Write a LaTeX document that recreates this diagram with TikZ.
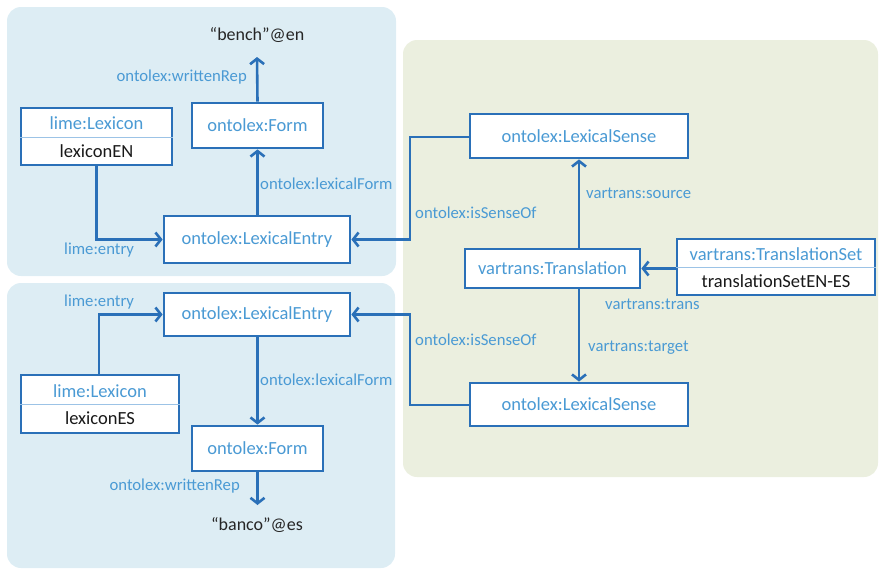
\documentclass[tikz,border=0pt]{standalone}
\usepackage{fontspec}
\setmainfont{Carlito}
\usetikzlibrary{arrows.meta}
\definecolor{edgeblue}{HTML}{2A70B8}
\definecolor{labelblue}{HTML}{4A9AD4}
\definecolor{panelblue}{HTML}{DDEDF4}
\definecolor{panelgreen}{HTML}{EBEFDF}
\definecolor{splitblue}{HTML}{9CC3E6}
\tikzset{
  panel/.style={rounded corners=14pt, draw=none},
  cls/.style={draw=edgeblue, line width=2.8pt, fill=white, text=labelblue,
    inner sep=0pt, font=\fontsize{18.5}{20}\selectfont},
  lbl/.style={text=labelblue, inner sep=0pt, font=\fontsize{16.7}{18}\selectfont},
  head/.style={text=labelblue, inner sep=0pt, font=\fontsize{18.5}{20}\selectfont},
  lit/.style={text=black!85, inner sep=0pt, font=\fontsize{18}{20}\selectfont},
  inst/.style={text=black!90, inner sep=0pt, font=\fontsize{18.5}{20}\selectfont},
  rel/.style={draw=edgeblue, line width=2.6pt, -{Straight Barb[length=5.5pt,width=14pt,line width=2.6pt]}},
  split/.style={draw=splitblue, line width=1pt}
}
\begin{document}
\begin{tikzpicture}[x=1pt,y=-1pt]
\useasboundingbox (0,0) rectangle (879,570);
% background panels
\fill[panel, panelblue] (7,7) rectangle (396,276);
\fill[panel, panelblue] (7,283) rectangle (395,568);
\fill[panel, panelgreen] (403,40) rectangle (878,477);

% English lexicon
\node[lit] (benchEN) at (257,35) {“bench”@en};
\node[cls, minimum width=131pt, minimum height=45pt] (formEN) at (257.5,125.5) {ontolex:Form};
\node[cls, minimum width=186pt, minimum height=47pt] (entryEN) at (257,239.5) {ontolex:LexicalEntry};
\node[cls, minimum width=151pt, minimum height=57pt] (lexEN) at (96.5,136.5) {};
\draw[split] (lexEN.west |- 0,137) -- (lexEN.east |- 0,137);
\node[head] (lexENt) at (96.5,123.5) {lime:Lexicon};
\node[inst] (lexENn) at (96.5,151) {lexiconEN};

% Spanish lexicon
\node[lit] (bancoES) at (257,525) {“banco”@es};
\node[cls, minimum width=131pt, minimum height=45pt] (formES) at (257.5,448.5) {ontolex:Form};
\node[cls, minimum width=186pt, minimum height=43pt] (entryES) at (257,314.5) {ontolex:LexicalEntry};
\node[cls, minimum width=158pt, minimum height=58pt] (lexES) at (100,404) {};
\draw[split] (lexES.west |- 0,404) -- (lexES.east |- 0,404);
\node[head] (lexESt) at (100,391) {lime:Lexicon};
\node[inst] (lexESn) at (100,418) {lexiconES};

% translation part
\node[cls, minimum width=218pt, minimum height=44pt] (senseEN) at (579,136) {ontolex:LexicalSense};
\node[cls, minimum width=218pt, minimum height=43pt] (senseES) at (579,404.5) {ontolex:LexicalSense};
\node[cls, minimum width=175pt, minimum height=39pt] (trans) at (552.5,268.5) {vartrans:Translation};
\node[cls, minimum width=198pt, minimum height=56pt] (tset) at (776,267) {};
\draw[split] (tset.west |- 0,267) -- (tset.east |- 0,267);
\node[head] (tsett) at (776,254) {vartrans:TranslationSet};
\node[inst] (tsetn) at (776,281) {translationSetEN-ES};

\coordinate (senseFootEN) at (senseEN.south);
\coordinate (senseHeadES) at (senseES.north);
\coordinate (lexENfoot) at (lexEN.south);
\coordinate (lexEShead) at (lexES.north);
\coordinate (isoTopCorner) at (410,137);
\coordinate (isoBotCorner) at (410,405);

% relations: English side
\draw[rel] (formEN.north) -- (benchEN.south |- 0,57);
\draw[rel] (entryEN.north -| formEN) -- (formEN.south);
\draw[rel] (lexENfoot) |- (entryEN.west);
\draw[rel] (senseEN.west |- isoTopCorner) -- (isoTopCorner) |- (entryEN.east);

% relations: Spanish side
\draw[rel] (formES.south) -- (formES.south |- 0,505);
\draw[rel] (entryES.south -| formES) -- (formES.north);
\draw[rel] (lexEShead -| 99,0) |- (entryES.west);
\draw[rel] (senseES.west |- isoBotCorner) -- (isoBotCorner) |- (entryES.east);

% relations: translation
\draw[rel] (trans.north -| senseFootEN) -- (senseFootEN);
\draw[rel] (trans.south -| senseHeadES) -- (senseHeadES);
\draw[rel] (tset.west |- trans) -- (trans.east);

% property labels
\node[lbl, anchor=east] (wrEN) at (247,77) {ontolex:writtenRep};
\node[lbl, anchor=west] (lfEN) at (260,184) {ontolex:lexicalForm};
\node[lbl, anchor=west] (leEN) at (64,250) {lime:entry};
\node[lbl, anchor=west] (isoEN) at (415,213) {ontolex:isSenseOf};
\node[lbl, anchor=west] (src) at (586,193) {vartrans:source};
\node[lbl, anchor=west] (trn) at (605,304) {vartrans:trans};
\node[lbl, anchor=west] (tgt) at (588,348) {vartrans:target};
\node[lbl, anchor=west] (isoES) at (415,340) {ontolex:isSenseOf};
\node[lbl, anchor=west] (leES) at (64,302) {lime:entry};
\node[lbl, anchor=west] (lfES) at (260,380) {ontolex:lexicalForm};
\node[lbl, anchor=east] (wrES) at (240,486) {ontolex:writtenRep};
\end{tikzpicture}
\end{document}
